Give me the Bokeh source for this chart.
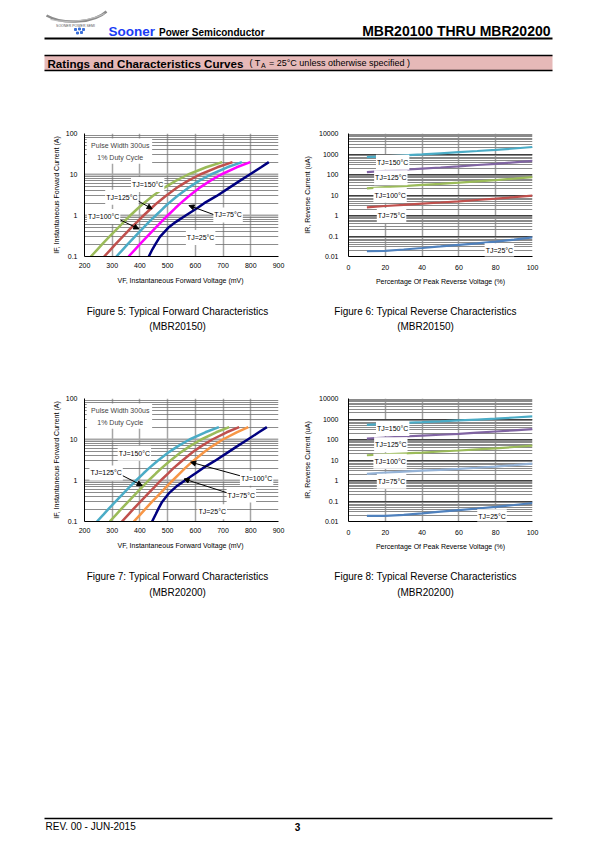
from bokeh.plotting import figure
from bokeh.layouts import column, row
from bokeh.models import Range1d, FixedTicker, Label, Arrow, NormalHead, BoxAnnotation
from bokeh.embed import file_html
from bokeh.resources import INLINE
from bokeh.core.properties import value

FONT = "Liberation Sans"

# ---------------- data ----------------
# Forward characteristics: current levels (A) and forward voltage (mV) per junction temperature
IF_PTS = [0.1, 0.15, 0.2, 0.3, 0.5, 0.7, 1, 1.5, 2, 3, 5, 7, 10, 15, 20]

# Figure 5 (MBR20150)
VF5_150 = [223, 247, 264, 289, 321, 342, 365, 393, 414, 446, 493, 529, 574, 639, 697]
VF5_125 = [271, 295, 312, 337, 368, 390, 413, 441, 461, 493, 538, 573, 617, 679, 734]
VF5_100 = [315, 339, 356, 381, 412, 433, 457, 484, 504, 535, 580, 613, 656, 715, 768]
VF5_75 = [359, 383, 400, 425, 456, 477, 500, 527, 547, 577, 620, 653, 693, 749, 798]
VF5_25 = [432, 445, 456, 472, 502, 530, 565, 606, 632, 677, 727, 760, 796, 837, 865]

# Figure 7 (MBR20200)
VF7_150 = [245, 269, 286, 311, 342, 363, 386, 413, 433, 463, 506, 539, 579, 636, 685]
VF7_125 = [291, 315, 332, 357, 388, 409, 431, 458, 478, 508, 550, 582, 621, 675, 722]
VF7_100 = [335, 359, 376, 401, 432, 453, 475, 502, 521, 551, 592, 623, 661, 713, 758]
VF7_75 = [378, 402, 419, 443, 475, 495, 518, 544, 563, 592, 633, 663, 699, 749, 791]
VF7_25 = [444, 457, 466, 480, 506, 530, 562, 601, 627, 670, 720, 753, 789, 829, 858]

# Reverse characteristics: percent of peak reverse voltage and reverse current (uA)
VR_PCT = [10, 20, 30, 40, 50, 60, 70, 80, 90, 100]

# Figure 6 (MBR20150)
IR6_150 = [700, 760, 850, 950, 1080, 1230, 1400, 1600, 1850, 2200]
IR6_125 = [130, 150, 170, 195, 220, 250, 290, 330, 390, 460]
IR6_100 = [21, 24, 27, 31, 35, 40, 46, 53, 63, 75]
IR6_75 = [2.5, 2.9, 3.3, 3.8, 4.3, 4.9, 5.7, 6.6, 7.8, 9.3]
IR6_25 = [0.018, 0.019, 0.022, 0.026, 0.031, 0.037, 0.044, 0.053, 0.066, 0.085]

# Figure 8 (MBR20200)
IR8_150 = [520, 580, 640, 700, 770, 850, 940, 1040, 1180, 1340]
IR8_125 = [110, 125, 140, 155, 170, 190, 215, 245, 280, 320]
IR8_100 = [17, 19, 21, 23, 26, 29, 33, 37, 43, 50]
IR8_75 = [2.1, 2.4, 2.7, 3.0, 3.3, 3.7, 4.2, 4.8, 5.6, 6.6]
IR8_25 = [0.019, 0.019, 0.021, 0.025, 0.030, 0.036, 0.043, 0.052, 0.064, 0.080]

# Ticks
VF_TICKS = [200, 300, 400, 500, 600, 700, 800, 900]
IF_TICKS = [0.1, 1, 10, 100]
IF_TICK_LABELS = ["0.1", "1", "10", "100"]
PCT_TICKS = [0, 20, 40, 60, 80, 100]
IR_TICKS = [0.01, 0.1, 1, 10, 100, 1000, 10000]
IR_TICK_LABELS = ["0.01", "0.1", "1", "10", "100", "1000", "10000"]

# Colours
C_GREEN = "#9BBB59"
C_RED = "#C0504D"
C_CYAN = "#4BACC6"
C_MAGENTA = "#FF00FF"
C_NAVY = "#000080"
C_ORANGE = "#F79646"
C_PURPLE = "#8064A2"
C_BLUE = "#4F81BD"
C_LBLUE = "#95B3D7"


def minor_log(ticks):
    out = []
    for t in ticks[:-1]:
        for m in range(2, 10):
            out.append(t * m)
    return out


def style_common(p):
    p.outline_line_color = None
    p.background_fill_color = "white"
    p.border_fill_color = "white"
    for ax in p.axis:
        ax.major_tick_out = 0
        ax.major_tick_in = 0
        ax.minor_tick_out = 0
        ax.minor_tick_in = 0
        ax.major_tick_line_color = None
        ax.minor_tick_line_color = None
        ax.axis_line_color = "black"
        ax.axis_line_width = 1
        ax.major_label_text_font = FONT
        ax.major_label_text_font_size = "7px"
        ax.major_label_text_color = "black"
        ax.axis_label_text_font = FONT
        ax.axis_label_text_font_size = "7px"
        ax.axis_label_text_font_style = "normal"
        ax.axis_label_text_color = "black"


def add_label(p, x, y, text):
    p.add_layout(Label(x=x, y=y, text=text, text_font=FONT, text_font_size="7px",
                       text_align="center", text_baseline="middle", text_color="black",
                       background_fill_color="white", background_fill_alpha=1.0,
                       padding=(1, 4)))


def add_arrow(p, x0, y0, x1, y1):
    p.add_layout(Arrow(end=NormalHead(size=5, fill_color="black", line_color="black"),
                       x_start=x0, y_start=y0, x_end=x1, y_end=y1,
                       line_color="black", line_width=1))


def forward_fig(curves, labels, arrows):
    p = figure(width=300, height=180, x_range=Range1d(200, 900), y_range=Range1d(0.1, 100),
               y_axis_type="log", output_backend="svg", toolbar_location=None,
               min_border_left=84, min_border_right=22, min_border_top=18, min_border_bottom=39)
    style_common(p)
    p.xaxis.ticker = FixedTicker(ticks=VF_TICKS)
    p.yaxis.ticker = FixedTicker(ticks=IF_TICKS, minor_ticks=minor_log(IF_TICKS))
    p.yaxis.major_label_overrides = {t: s for t, s in zip(IF_TICKS, IF_TICK_LABELS)}
    p.xaxis.axis_label = "VF, Instantaneous Forward  Voltage (mV)"
    p.yaxis.axis_label = "IF, Instantaneous Forward Current (A)"
    p.xaxis.major_label_standoff = 6
    p.xaxis.axis_label_standoff = 6
    p.yaxis.major_label_standoff = 7
    p.yaxis.axis_label_standoff = 3
    p.xgrid.grid_line_color = "#A6A6A6"
    p.xgrid.grid_line_width = 1.5
    p.ygrid.grid_line_color = "#A6A6A6"
    p.ygrid.grid_line_width = 2
    p.ygrid.minor_grid_line_color = "#6E6E6E"
    p.ygrid.minor_grid_line_width = 0.8
    p.add_layout(BoxAnnotation(left=208, right=444, bottom=18.4, top=75,
                               fill_color="white", fill_alpha=1.0, line_color=None))
    for vf, col in curves:
        p.line(vf, IF_PTS, line_color=col, line_width=2.5)
    p.add_layout(Label(x=329, y=51.8, text="Pulse Width 300us", text_font=FONT,
                       text_font_size="7px", text_align="center", text_baseline="middle"))
    p.add_layout(Label(x=329, y=25.3, text="1% Duty Cycle", text_font=FONT,
                       text_font_size="7px", text_align="center", text_baseline="middle"))
    for a in arrows:
        add_arrow(p, *a)
    for x, y, t in labels:
        add_label(p, x, y, t)
    return p


def reverse_fig(curves, labels):
    p = figure(width=295, height=180, x_range=Range1d(0, 100), y_range=Range1d(0.01, 10000),
               y_axis_type="log", output_backend="svg", toolbar_location=None,
               min_border_left=48, min_border_right=63, min_border_top=18, min_border_bottom=36)
    style_common(p)
    p.xaxis.ticker = FixedTicker(ticks=PCT_TICKS)
    p.yaxis.ticker = FixedTicker(ticks=IR_TICKS, minor_ticks=minor_log(IR_TICKS))
    p.yaxis.major_label_overrides = {t: s for t, s in zip(IR_TICKS, IR_TICK_LABELS)}
    p.xaxis.axis_label = "Percentage Of Peak Reverse Voltage (%)"
    p.yaxis.axis_label = "IR, Reverse Current (uA)"
    p.xaxis.major_label_standoff = 8
    p.xaxis.axis_label_standoff = 5
    p.yaxis.major_label_standoff = 10
    p.yaxis.axis_label_standoff = 5
    p.xgrid.grid_line_color = "#A0A0A0"
    p.xgrid.grid_line_width = 1.5
    p.ygrid.grid_line_color = "#404040"
    p.ygrid.grid_line_width = 1.2
    p.ygrid.minor_grid_line_color = "#8A8A8A"
    p.ygrid.minor_grid_line_width = 1
    for ir, col in curves:
        p.line(VR_PCT, ir, line_color=col, line_width=2.2)
    for x, y, t in labels:
        add_label(p, x, y, t)
    return p


def page_fig(w, h, x0, y0):
    p = figure(width=w, height=h, x_range=Range1d(x0, x0 + w), y_range=Range1d(y0 + h, y0),
               x_axis_type=None, y_axis_type=None, output_backend="svg",
               toolbar_location=None, min_border=0)
    p.outline_line_color = None
    p.background_fill_color = "white"
    p.border_fill_color = "white"
    p.grid.visible = False
    return p


def txt(p, x, y, s, size, bold=False, align="left", color="black", baseline="middle"):
    p.text(x=[x], y=[y], text=[s], text_font=value(FONT), text_font_size=f"{size}px",
           text_font_style="bold" if bold else "normal", text_align=align,
           text_baseline=baseline, text_color=color)


# ---------------- header ----------------
hdr = page_fig(595, 115, 0, 0)
hdr.bezier(x0=[46], y0=[15], x1=[106], y1=[11], cx0=[64], cy0=[25], cx1=[94], cy1=[22],
           line_color="#8C8C8C", line_width=2.5)
hdr.bezier(x0=[50], y0=[19], x1=[104], y1=[13], cx0=[66], cy0=[23], cx1=[92], cy1=[20],
           line_color="#BDBDBD", line_width=1.2)
txt(hdr, 75, 25.5, "SOONER POWER SEMI", 3.5, align="center", color="#555555")
hdr.scatter(x=[75, 79, 83, 77, 81], y=[29, 28.5, 29, 32.5, 32], size=2, marker="square",
            color="#3A6FD8")
txt(hdr, 108, 30.5, "Sooner", 13.5, bold=True, color="#1A3CF5")
txt(hdr, 158.5, 31.5, "Power Semiconductor", 10, bold=True)
txt(hdr, 550, 30.5, "MBR20100 THRU MBR20200", 14, bold=True, align="right")
hdr.segment(x0=[44], y0=[38], x1=[552], y1=[38], line_color="black", line_width=2)
hdr.quad(left=[44], right=[552], top=[55], bottom=[70], fill_color="#E6B9B8", line_color=None)
hdr.segment(x0=[44, 44], y0=[55, 70], x1=[552, 552], y1=[55, 70], line_color="black", line_width=1.5)
txt(hdr, 47, 62.5, "Ratings and Characteristics Curves", 11.6, bold=True)
txt(hdr, 249, 62.5, "( T", 9)
txt(hdr, 260.5, 65, "A", 7)
txt(hdr, 268.5, 62.5, "= 25\u00b0C unless otherwise specified )", 9)

# ---------------- charts ----------------
fig5 = forward_fig(
    [(VF5_150, C_GREEN), (VF5_125, C_RED), (VF5_100, C_CYAN), (VF5_75, C_MAGENTA), (VF5_25, C_NAVY)],
    [(428, 5.7, "TJ=150\u00b0C"), (335, 2.8, "TJ=125\u00b0C"), (269, 0.94, "TJ=100\u00b0C"),
     (718, 1.03, "TJ=75\u00b0C"), (619, 0.29, "TJ=25\u00b0C")],
    [(392, 2.3, 444, 1.45), (323, 0.82, 396, 0.47), (670, 1.03, 577, 1.75)])

fig6 = reverse_fig(
    [(IR6_150, C_CYAN), (IR6_125, C_PURPLE), (IR6_100, C_GREEN), (IR6_75, C_RED), (IR6_25, C_BLUE)],
    [(24, 400, "TJ=150\u00b0C"), (23, 69, "TJ=125\u00b0C"), (22.6, 9.6, "TJ=100\u00b0C"),
     (23.4, 1.0, "TJ=75\u00b0C"), (82, 0.019, "TJ=25\u00b0C")])

fig7 = forward_fig(
    [(VF7_150, C_CYAN), (VF7_125, C_GREEN), (VF7_100, C_RED), (VF7_75, C_ORANGE), (VF7_25, C_NAVY)],
    [(380, 4.65, "TJ=150\u00b0C"), (278, 1.53, "TJ=125\u00b0C"), (821, 1.13, "TJ=100\u00b0C"),
     (766, 0.44, "TJ=75\u00b0C"), (661, 0.172, "TJ=25\u00b0C")],
    [(332, 1.37, 408, 0.75), (768, 1.27, 583, 2.8), (719, 0.49, 559, 1.09)])

fig8 = reverse_fig(
    [(IR8_150, C_CYAN), (IR8_125, C_PURPLE), (IR8_100, C_GREEN), (IR8_75, C_LBLUE), (IR8_25, C_BLUE)],
    [(24, 347, "TJ=150\u00b0C"), (23, 56, "TJ=125\u00b0C"), (22.6, 8.6, "TJ=100\u00b0C"),
     (23.4, 0.93, "TJ=75\u00b0C"), (78, 0.017, "TJ=25\u00b0C")])

# ---------------- captions ----------------
cap1 = page_fig(595, 85, 0, 295)
txt(cap1, 177, 311, "Figure 5: Typical Forward Characteristics", 10, align="center")
txt(cap1, 177, 326, "(MBR20150)", 10, align="center")
txt(cap1, 425, 311, "Figure 6: Typical Reverse Characteristics", 10, align="center")
txt(cap1, 425, 326, "(MBR20150)", 10, align="center")

foot = page_fig(595, 276, 0, 560)
txt(foot, 177, 576, "Figure 7: Typical Forward Characteristics", 10, align="center")
txt(foot, 177, 592, "(MBR20200)", 10, align="center")
txt(foot, 425, 576, "Figure 8: Typical Reverse Characteristics", 10, align="center")
txt(foot, 425, 592, "(MBR20200)", 10, align="center")
foot.segment(x0=[44], y0=[818], x1=[552], y1=[818], line_color="black", line_width=1.5)
txt(foot, 45, 826, "REV. 00 - JUN-2015", 10)
txt(foot, 297, 826, "3", 10, bold=True, align="center")

layout = column(hdr, row(fig5, fig6, spacing=0), cap1, row(fig7, fig8, spacing=0), foot, spacing=0)

open("out.html", "w").write(file_html(layout, INLINE))
